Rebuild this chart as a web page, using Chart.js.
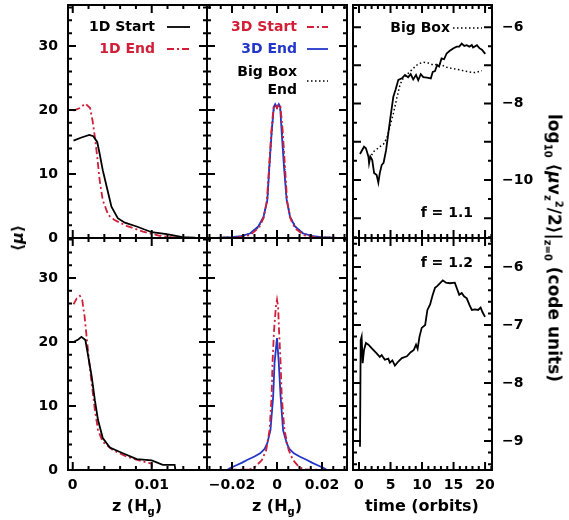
<!DOCTYPE html>
<html>
<head>
<meta charset="utf-8">
<script src="https://cdn.jsdelivr.net/npm/chart.js@4.4.0/dist/chart.umd.min.js"></script>
<style>
body { margin: 0; background: #fff; }
#fig { position: relative; width: 569px; height: 520px; font-family: "DejaVu Sans"; font-weight: bold; color: #000; }
#fig canvas { position: absolute; left: 0; top: 0; }
.lab { position: absolute; font-size: 16px; white-space: nowrap; line-height: 18px; }
.lab sub, .lab sup { font-size: 10px; }
</style>
</head>
<body>
<div id="fig">
  <canvas id="tl" width="569" height="520"></canvas>
  <canvas id="tm" width="569" height="520"></canvas>
  <canvas id="tr" width="569" height="520"></canvas>
  <canvas id="bl" width="569" height="520"></canvas>
  <canvas id="bm" width="569" height="520"></canvas>
  <canvas id="br" width="569" height="520"></canvas>
  <div class="lab" style="left:18px;top:238px;transform:translate(-50%,-50%) rotate(-90deg)">⟨<i>μ</i>⟩</div>
  <div class="lab" style="left:553px;top:248px;font-size:17px;transform:translate(-50%,-50%) rotate(90deg)">log<sub>10</sub> ⟨<i>μ</i>v<sub>z</sub><sup>2</sup>/2⟩|<sub>z=0</sub> (code units)</div>
  <div class="lab" style="left:137px;top:497px;transform:translateX(-50%)">z (H<sub>g</sub>)</div>
  <div class="lab" style="left:277px;top:497px;transform:translateX(-50%)">z (H<sub>g</sub>)</div>
  <div class="lab" style="left:422px;top:497px;transform:translateX(-50%)">time (orbits)</div>
</div>
<script>
// tick labels
const muTicks = [0, 10, 20, 30];
const zTicks1D = [0, 0.01];
const zTicks3D = [-0.02, 0, 0.02];
const timeTicks = [0, 5, 10, 15, 20];
const logTicksTop = [-10, -8, -6];
const logTicksBottom = [-9, -8, -7, -6];

// top left: 1D runs, f = 1.1
const tlStartZ = [0.0001, 0.0011, 0.0021, 0.0026, 0.0031, 0.0034, 0.0038, 0.0043, 0.0049, 0.0057, 0.0066, 0.0081, 0.0100, 0.0119, 0.0139, 0.0155, 0.0169];
const tlStartMu = [15.2, 15.7, 16.1, 15.9, 15.0, 13.2, 10.6, 8.0, 4.9, 3.1, 2.4, 1.8, 0.9, 0.6, 0.15, 0.05, 0.02];
const tlEndZ = [0.0001, 0.0009, 0.0016, 0.0022, 0.0025, 0.0028, 0.0031, 0.0034, 0.0038, 0.0045, 0.0053, 0.0068, 0.0089, 0.0110, 0.0127, 0.0145, 0.0169];
const tlEndMu = [19.9, 20.3, 21.0, 20.3, 18.4, 15.8, 12.7, 9.1, 5.9, 3.6, 2.8, 1.9, 1.0, 0.35, 0.1, 0.02, 0.0];

// bottom left: 1D runs, f = 1.2
const blStartZ = [0.0001, 0.0007, 0.0011, 0.0016, 0.0019, 0.0024, 0.0028, 0.0032, 0.0038, 0.0047, 0.0062, 0.0081, 0.0100, 0.0114, 0.0129, 0.0130];
const blStartMu = [20.0, 20.4, 20.8, 20.3, 18.2, 14.6, 10.9, 7.8, 5.0, 3.5, 2.7, 1.7, 1.5, 0.8, 0.8, 0];
const blEndZ = [0.0001, 0.0005, 0.0009, 0.0012, 0.0015, 0.0018, 0.0021, 0.0024, 0.0028, 0.0032, 0.0038, 0.0051, 0.0068, 0.0085, 0.0100, 0.01001, 0.0130];
const blEndMu = [25.9, 26.8, 27.2, 26.6, 24.0, 20.3, 16.7, 13.5, 9.4, 6.25, 4.4, 3.1, 2.1, 1.45, 1.0, 0, 0];

// top middle: 3D runs, f = 1.1
const tmStartZ = [-0.031, -0.022, -0.016, -0.012, -0.008, -0.006, -0.0045, -0.0035, -0.0025, -0.0015, -0.0008, 0, 0.0008, 0.0015, 0.0025, 0.0035, 0.0045, 0.006, 0.008, 0.012, 0.016, 0.022, 0.031];
const tmStartMu = [0.02, 0.05, 0.15, 0.45, 1.6, 3.1, 5.8, 11.2, 16.8, 20.5, 20.8, 20.3, 20.9, 20.6, 16.9, 11.4, 5.8, 3.0, 1.5, 0.45, 0.15, 0.05, 0.02];
const tmEndZ = [-0.031, -0.025, -0.020, -0.016, -0.012, -0.0083, -0.006, -0.0043, -0.0034, -0.0024, -0.0014, -0.0008, 0, 0.0008, 0.0014, 0.0021, 0.0031, 0.0043, 0.0058, 0.008, 0.0116, 0.016, 0.020, 0.025, 0.031];
const tmEndMu = [0.02, 0.05, 0.12, 0.3, 0.7, 1.8, 3.3, 5.9, 11.1, 16.4, 20.5, 20.9, 20.4, 20.9, 20.5, 16.4, 11.1, 5.9, 3.3, 1.8, 0.7, 0.3, 0.12, 0.05, 0.02];
const tmBigZ = [-0.031, -0.022, -0.016, -0.012, -0.0083, -0.006, -0.0043, -0.0034, -0.0024, -0.0014, -0.0007, 0, 0.0007, 0.0014, 0.0024, 0.0034, 0.0043, 0.006, 0.0083, 0.012, 0.016, 0.022, 0.031];
const tmBigMu = [0.02, 0.08, 0.25, 0.65, 1.7, 3.2, 5.9, 11.0, 16.3, 20.4, 20.7, 20.3, 20.7, 20.4, 16.3, 11.0, 5.9, 3.2, 1.7, 0.65, 0.25, 0.08, 0.02];

// bottom middle: 3D runs, f = 1.2
const bmStartZ = [-0.021, -0.015, -0.012, -0.0097, -0.0067, -0.0048, -0.0033, -0.0024, -0.002, -0.0013, -0.0005, 0, 0.0005, 0.0009, 0.0016, 0.0021, 0.0033, 0.0052, 0.0071, 0.0097, 0.012, 0.015, 0.021];
const bmStartMu = [0.05, 0.05, 0.1, 0.5, 1.56, 3.1, 6.25, 11.5, 16.7, 21.9, 25.5, 26.6, 25.5, 21.9, 16.7, 11.5, 6.25, 3.1, 1.56, 0.5, 0.1, 0.05, 0.05];
const bmEndZ = [-0.022, -0.021, -0.0195, -0.0178, -0.0155, -0.0133, -0.010, -0.0075, -0.0055, -0.0043, -0.0029, -0.0017, -0.0011, 0, 0.0008, 0.0016, 0.0027, 0.0043, 0.0055, 0.0075, 0.010, 0.0133, 0.0155, 0.0178, 0.0195, 0.021, 0.022];
const bmEndMu = [0.05, 0.26, 0.5, 0.78, 1.15, 1.56, 2.1, 2.6, 3.3, 4.2, 6.25, 11.5, 16.7, 20.6, 16.7, 11.5, 6.25, 4.2, 3.3, 2.6, 2.1, 1.56, 1.15, 0.78, 0.5, 0.26, 0.05];

// top right: log10 <mu vz^2/2> at midplane, f = 1.1
const trTime = [0.16, 0.8, 1.1, 1.5, 1.6, 1.8, 2.1, 2.4, 2.8, 3.07, 3.3, 3.6, 3.9, 4.3, 4.65, 5.0, 5.45, 5.8, 6.24, 6.8, 7.3, 7.8, 8.2, 8.6, 9.05, 9.4, 9.8, 10.2, 10.8, 11.4, 11.7, 12.06, 12.4, 12.7, 13.1, 13.5, 13.9, 14.4, 15.0, 15.5, 15.9, 16.3, 16.7, 17.1, 17.5, 17.9, 18.1, 18.7, 19.1, 19.5, 20.03];
const trLog = [-9.32, -9.13, -9.17, -9.39, -9.56, -9.39, -9.48, -9.82, -9.87, -10.07, -9.82, -9.61, -9.55, -9.22, -8.78, -8.35, -7.82, -7.64, -7.38, -7.34, -7.25, -7.31, -7.23, -7.37, -7.25, -7.39, -7.23, -7.31, -7.32, -7.34, -7.17, -7.15, -6.99, -7.03, -6.82, -6.84, -6.69, -6.62, -6.55, -6.51, -6.51, -6.43, -6.49, -6.47, -6.51, -6.47, -6.53, -6.47, -6.55, -6.59, -6.70];
const trBigTime = [2.0, 2.3, 2.8, 3.3, 3.9, 4.4, 4.9, 5.45, 6.0, 6.5, 7.0, 7.8, 8.6, 9.4, 10.2, 11.0, 11.8, 12.9, 13.65, 14.7, 16.0, 17.35, 18.4, 19.5];
const trBigLog = [-9.35, -9.26, -9.2, -9.13, -9.06, -8.91, -8.61, -8.26, -7.86, -7.51, -7.34, -7.21, -7.08, -6.96, -6.92, -6.94, -6.99, -6.96, -7.04, -7.08, -7.12, -7.17, -7.19, -7.14];

// bottom right: f = 1.2
const brTime = [0.16, 0.27, 0.42, 0.58, 0.8, 1.1, 1.5, 2.0, 2.8, 3.3, 3.6, 4.1, 4.65, 4.9, 5.3, 5.7, 6.24, 6.8, 7.6, 8.2, 8.7, 9.05, 9.3, 9.6, 9.95, 10.5, 10.85, 11.27, 11.7, 12.06, 12.4, 12.86, 13.3, 13.8, 14.4, 15.2, 15.6, 15.9, 16.3, 16.7, 17.1, 17.5, 17.9, 18.4, 18.9, 19.3, 19.6, 20.0];
const brLog = [-9.10, -7.26, -7.2, -7.66, -7.43, -7.31, -7.34, -7.40, -7.49, -7.55, -7.52, -7.60, -7.58, -7.65, -7.61, -7.70, -7.63, -7.57, -7.54, -7.47, -7.43, -7.34, -7.41, -7.20, -7.05, -7.0, -6.74, -6.65, -6.48, -6.36, -6.33, -6.28, -6.23, -6.27, -6.28, -6.27, -6.39, -6.48, -6.45, -6.51, -6.54, -6.65, -6.74, -6.73, -6.74, -6.70, -6.78, -6.86];

const W = 569, H = 520;
const tickFont = { family: 'DejaVu Sans', size: 14, weight: 'bold' };
const RED = '#d21f37', BLUE = '#2236c8';

const solidBlack = { borderColor: '#000', borderWidth: 1.8 };
const dashRed = { borderColor: RED, borderWidth: 1.8, borderDash: [7, 3, 2, 3] };
const solidBlue = { borderColor: BLUE, borderWidth: 1.8 };
const dotBlack = { borderColor: '#000', borderWidth: 1.5, borderDash: [1.5, 2.5] };

function series(xs, ys, style) {
    return Object.assign({ data: xs.map((x, i) => ({ x: x, y: ys[i] })), pointRadius: 0, tension: 0, fill: false }, style);
}

function steps(a, b, d) {
    const out = [];
    for (let v = a; v <= b + d / 1000; v += d) out.push(Math.round(v / d) * d);
    return out;
}

function fmt(v) {
    return String(v).replace('-', '\u2212');
}

// frame with inward ticks on all four sides
const framePlugin = {
    id: 'frame',
    afterDatasetsDraw(chart, args, o) {
        const { ctx, chartArea: a, scales } = chart;
        ctx.save();
        ctx.strokeStyle = '#000';
        ctx.lineWidth = 2;
        ctx.strokeRect(a.left, a.top, a.right - a.left, a.bottom - a.top);
        ctx.beginPath();
        [[o.xMinor, 4], [o.xMajor, 8]].forEach(([vals, len]) => vals.forEach(v => {
            const px = scales.x.getPixelForValue(v);
            ctx.moveTo(px, a.bottom); ctx.lineTo(px, a.bottom - len);
            ctx.moveTo(px, a.top); ctx.lineTo(px, a.top + len);
        }));
        [[o.yMinor, 4], [o.yMajor, 8]].forEach(([vals, len]) => vals.forEach(v => {
            const py = scales.y.getPixelForValue(v);
            ctx.moveTo(a.left, py); ctx.lineTo(a.left + len, py);
            ctx.moveTo(a.right, py); ctx.lineTo(a.right - len, py);
        }));
        ctx.stroke();
        ctx.restore();
    }
};

// legend entries and notes written inside the panel
const notesPlugin = {
    id: 'notes',
    afterDatasetsDraw(chart, args, o) {
        const { ctx, chartArea: a } = chart;
        ctx.save();
        ctx.font = 'bold 14px "DejaVu Sans"';
        ctx.textAlign = 'right';
        ctx.textBaseline = 'middle';
        (o.items || []).forEach(it => {
            ctx.fillStyle = it.color || '#000';
            it.text.forEach((t, k) => ctx.fillText(t, a.left + it.dx, a.top + it.dy + k * 18));
            if (it.ds !== undefined) {
                const d = chart.data.datasets[it.ds];
                const sy = a.top + it.dy + (it.text.length - 1) * 9;
                ctx.strokeStyle = d.borderColor;
                ctx.lineWidth = d.borderWidth;
                ctx.setLineDash(d.borderDash || []);
                ctx.beginPath();
                ctx.moveTo(a.left + it.s0, sy);
                ctx.lineTo(a.left + it.s1, sy);
                ctx.stroke();
                ctx.setLineDash([]);
            }
        });
        ctx.restore();
    }
};

// size = room kept outside the plot for this axis (0 when it has no labels)
function axis(pos, min, max, labels, size) {
    return {
        type: 'linear', position: pos, min: min, max: max,
        grid: { display: false, drawTicks: false },
        border: { display: false },
        ticks: { display: size > 0, font: tickFont, color: '#000', padding: pos === 'bottom' ? 7 : 10, callback: v => fmt(v) },
        afterBuildTicks: s => { s.ticks = labels.map(v => ({ value: v })); },
        afterFit: s => {
            if (pos === 'bottom') s.height = size; else s.width = size;
            s.paddingTop = s.paddingBottom = s.paddingLeft = s.paddingRight = 0;
        }
    };
}

function panel(id, box, datasets, xLab, xMin, xMax, xTicks, yPos, yMin, yMax, yTicks, yLab, frame, items) {
    const xSize = xLab ? H - box[3] : 0;
    const ySize = yLab ? (yPos === 'left' ? box[0] : W - box[2]) : 0;
    return new Chart(document.getElementById(id), {
        type: 'line',
        data: { datasets: datasets },
        options: {
            responsive: false,
            animation: false,
            layout: {
                autoPadding: false,
                padding: {
                    left: box[0] - (yPos === 'left' ? ySize : 0),
                    top: box[1],
                    right: W - box[2] - (yPos === 'right' ? ySize : 0),
                    bottom: H - box[3] - xSize
                }
            },
            plugins: { legend: { display: false }, tooltip: { enabled: false }, frame: frame, notes: { items: items } },
            scales: { x: axis('bottom', xMin, xMax, xTicks, xSize), y: axis(yPos, yMin, yMax, yTicks, ySize) }
        },
        plugins: [framePlugin, notesPlugin]
    });
}

const muFrame = { yMajor: muTicks, yMinor: steps(0, 36, 2) };
const frame1D = Object.assign({ xMajor: zTicks1D, xMinor: steps(0, 0.016, 0.002) }, muFrame);
const frame3D = Object.assign({ xMajor: zTicks3D, xMinor: steps(-0.03, 0.03, 0.005) }, muFrame);
const timeMinor = steps(0, 21, 1);

panel('tl', [68, 5, 207, 238],
    [series(tlStartZ, tlStartMu, solidBlack), series(tlEndZ, tlEndMu, dashRed)],
    false, -0.0006, 0.0170, zTicks1D, 'left', 0, 36.4, muTicks, true, frame1D,
    [{ text: ['1D Start'], dx: 87, dy: 22, ds: 0, s0: 99, s1: 122 },
     { text: ['1D End'], color: RED, dx: 87, dy: 44, ds: 1, s0: 99, s1: 122 }]);

panel('tm', [207, 5, 347, 238],
    [series(tmStartZ, tmStartMu, dashRed), series(tmEndZ, tmEndMu, solidBlue), series(tmBigZ, tmBigMu, dotBlack)],
    false, -0.0311, 0.0311, zTicks3D, 'left', 0, 36.4, muTicks, false, frame3D,
    [{ text: ['3D Start'], color: RED, dx: 90, dy: 22, ds: 0, s0: 100, s1: 121 },
     { text: ['3D End'], color: BLUE, dx: 90, dy: 44, ds: 1, s0: 100, s1: 121 },
     { text: ['Big Box', 'End'], dx: 90, dy: 67, ds: 2, s0: 100, s1: 121 }]);

panel('tr', [353, 5, 492, 238],
    [series(trTime, trLog, solidBlack), series(trBigTime, trBigLog, dotBlack)],
    false, -0.95, 21.1, timeTicks, 'right', -11.52, -5.42, logTicksTop, true,
    { xMajor: timeTicks, xMinor: timeMinor, yMajor: steps(-11, -6, 1), yMinor: steps(-11.5, -5.5, 0.5) },
    [{ text: ['Big Box'], dx: 97, dy: 23, ds: 1, s0: 100, s1: 129 },
     { text: ['f = 1.1'], dx: 120, dy: 208 }]);

panel('bl', [68, 238, 207, 470],
    [series(blStartZ, blStartMu, solidBlack), series(blEndZ, blEndMu, dashRed)],
    true, -0.0006, 0.0170, zTicks1D, 'left', 0, 36.25, muTicks, true, frame1D, []);

panel('bm', [207, 238, 347, 470],
    [series(bmStartZ, bmStartMu, dashRed), series(bmEndZ, bmEndMu, solidBlue)],
    true, -0.0311, 0.0311, zTicks3D, 'left', 0, 36.25, muTicks, false, frame3D, []);

panel('br', [353, 238, 492, 470],
    [series(brTime, brLog, solidBlack)],
    true, -0.95, 21.1, timeTicks, 'right', -9.5, -5.5, logTicksBottom, true,
    { xMajor: timeTicks, xMinor: timeMinor, yMajor: logTicksBottom, yMinor: steps(-9.4, -5.6, 0.2) },
    [{ text: ['f = 1.2'], dx: 120, dy: 25 }]);
</script>
</body>
</html>
